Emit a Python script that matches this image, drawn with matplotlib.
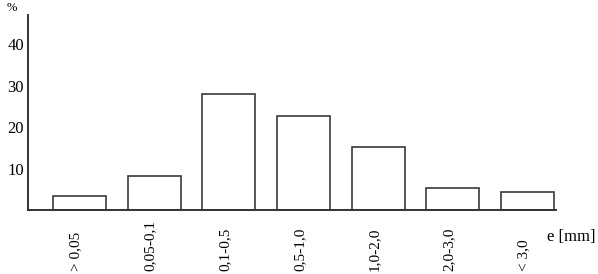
import matplotlib
matplotlib.use("Agg")
import matplotlib.pyplot as plt
import matplotlib.transforms as mtransforms

categories = ["> 0,05", "0,05-0,1", "0,1-0,5", "0,5-1,0", "1,0-2,0", "2,0-3,0", "< 3,0"]
values = [3.4, 8.2, 28.0, 22.7, 15.2, 5.2, 4.3]
yticks = [10, 20, 30, 40]

plt.rcParams['font.family'] = ['Liberation Serif', 'DejaVu Serif']

fig = plt.figure(figsize=(5.98, 2.74), dpi=100)
ax = fig.add_axes([28/598, 64/274, (556-28)/598, (210-15)/274])

x = list(range(len(categories)))
ax.bar(x, values, width=0.71, color='white', edgecolor='#3a3a3a', linewidth=1.2)

ax.set_xlim(-0.69, 6.38)
ax.set_ylim(0, 47)
ax.spines['top'].set_visible(False)
ax.spines['right'].set_visible(False)
for s in ('left', 'bottom'):
    ax.spines[s].set_color('#333333')
    ax.spines[s].set_linewidth(1.4)

ax.set_yticks(yticks)
ax.set_yticklabels([str(v) for v in yticks], fontsize=12)
ax.tick_params(axis='y', length=0, pad=3)
ax.set_xticks([])

trans = mtransforms.blended_transform_factory(ax.transData, fig.transFigure)
for xi, lab in zip(x, categories):
    ax.text(xi - 0.05, 3/274, lab, rotation=90, ha='center', va='bottom',
            fontsize=11, transform=trans)

fig.text(547/598, 1 - 237/274, "e [mm]", ha='left', va='center', fontsize=12)
fig.text(7/598, 1 - 8/274, "%", ha='left', va='center', fontsize=9)

fig.savefig("out.png", dpi=100)
